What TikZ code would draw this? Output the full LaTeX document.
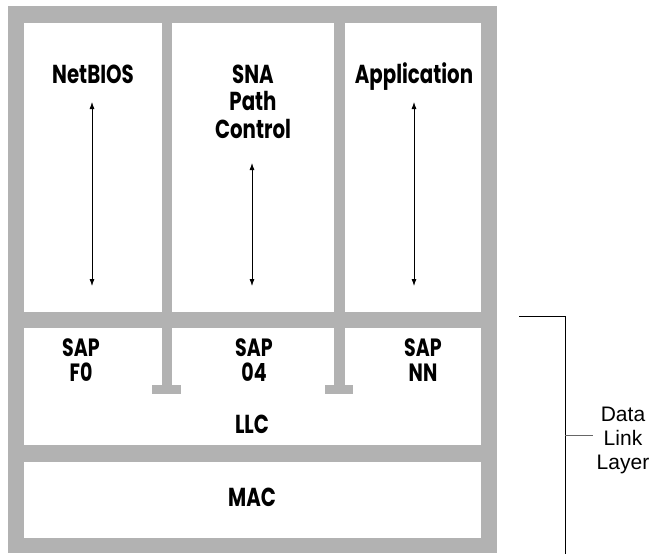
\documentclass[tikz,border=0pt]{standalone}
\usepackage{fontspec}
\setmainfont{Liberation Sans}
\newfontfamily\layerfont[FakeStretch=0.76]{Poppins}
\usetikzlibrary{arrows.meta}

\tikzset{
  band/.style={fill=black!30},
  pane/.style={fill=white},
  layername/.style={font=\layerfont\bfseries\fontsize{26}{27.5}\selectfont, align=center, inner sep=0pt, anchor=base},
  sapname/.style={layername, font=\layerfont\bfseries\fontsize{25}{25}\selectfont},
  updown/.style={{Latex[length=7pt,width=5pt]}-{Latex[length=7pt,width=5pt]}, line width=0.8pt},
  bracket/.style={line width=0.8pt}
}

\begin{document}
\begin{tikzpicture}[x=1pt,y=-1pt]
  \useasboundingbox (0,0) rectangle (653,554);
  % frame
  \fill[band] (8,6) rectangle (497,553);
  % upper panes
  \fill[pane] (24,23) rectangle (162,312);
  \fill[pane] (172,23) rectangle (334,312);
  \fill[pane] (345,23) rectangle (481,312);
  % lower panes
  \fill[pane] (24,328) rectangle (481,445);
  \fill[pane] (24,462) rectangle (481,538);
  % posts down into LLC
  \fill[band] (162,328) rectangle (172,385);\fill[band] (152,385) rectangle (181,394);
  \fill[band] (334,328) rectangle (345,385);\fill[band] (325,385) rectangle (353,394);

  % labels (base = last line)
  \node[layername] (netbios) at (93,83) {NetBIOS};
  \node[layername] (sna) at (253,138) {SNA\\Path\\Control};
  \node[layername] (app) at (414,83) {Application};
  \node[sapname] (sapf0) at (81,381) {SAP\\F0};
  \node[sapname] (sap04) at (254,381) {SAP\\04};
  \node[sapname] (sapnn) at (423,381) {SAP\\NN};
  \node[layername] (llc) at (252,433) {LLC};
  \node[layername] (mac) at (252,506) {MAC};

  % arrows
  \coordinate (nbtop) at (92,102);\coordinate (nbbot) at (92,286);
  \coordinate (snatop) at (252,163);\coordinate (snabot) at (252,286);
  \coordinate (apptop) at (414,102);\coordinate (appbot) at (414,286);
  \draw[updown] (nbtop) -- (nbbot);
  \draw[updown] (snatop) -- (snabot);
  \draw[updown] (apptop) -- (appbot);

  % bracket
  \coordinate (brin) at (519,316);\coordinate (brtop) at (565,316);\coordinate (brbot) at (565,554);
  \coordinate (brmid) at (565,435);\coordinate (brtick) at (593,435);
  \draw[bracket] (brin) -- (brtop) -- (brbot);
  \draw[bracket, black!60] (brmid) -- (brtick);
  \node[font=\fontsize{21}{24}\selectfont, align=center, inner sep=0pt, anchor=base] (dll) at (623,469) {Data\\Link\\Layer};
\end{tikzpicture}
\end{document}
